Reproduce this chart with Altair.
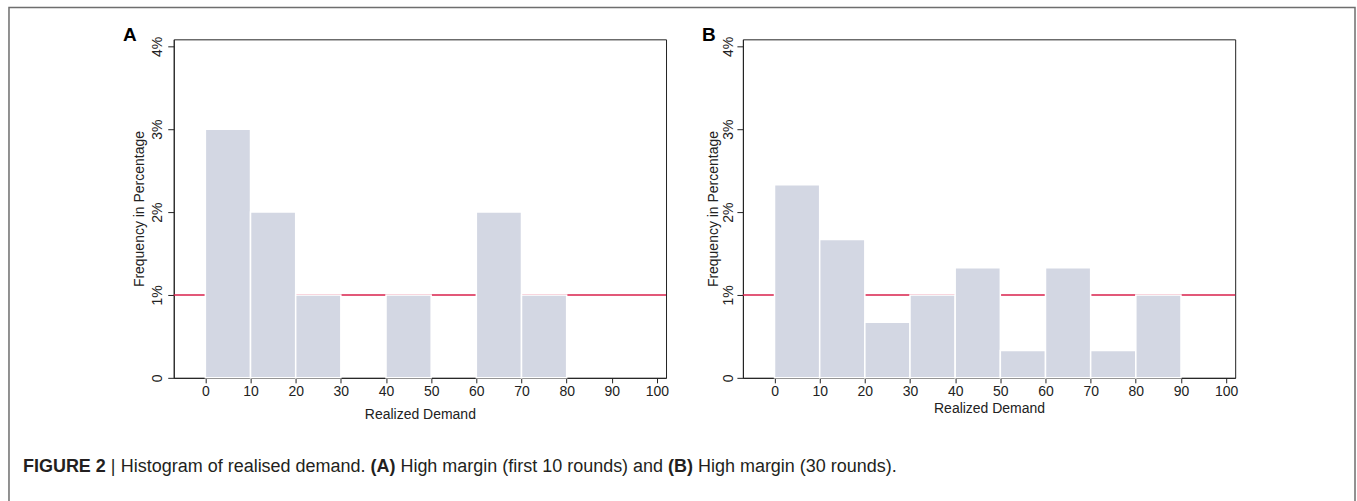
import altair as alt
import pandas as pd

# ---- data ----
bin_start = [0, 10, 20, 30, 40, 50, 60, 70, 80, 90]
bin_width = 10
pct_a = [3.0, 2.0, 1.0, 0.0, 1.0, 0.0, 2.0, 1.0, 0.0, 0.0]
pct_b = [2.33, 1.67, 0.67, 1.0, 1.33, 0.33, 1.33, 0.33, 1.0, 0.0]
ref_level = [1.0]
y_ticks = [0, 1, 2, 3, 4]
x_ticks = [0, 10, 20, 30, 40, 50, 60, 70, 80, 90, 100]
x_title = "Realized Demand"
y_title = "Frequency in Percentage"
caption_parts = [
    ("FIGURE 2", "bold"),
    ("|", "normal"),
    ("Histogram of realised demand.", "normal"),
    ("(A)", "bold"),
    ("High margin (first 10 rounds) and", "normal"),
    ("(B)", "bold"),
    ("High margin (30 rounds).", "normal"),
]
caption_x = [-151, -63, -53, 197, 227, 495, 525]

FONT = "Liberation Sans, Arial, Helvetica, sans-serif"
BAR = "#d3d7e3"
RED = "#d9214b"
INK = "#222222"

one = pd.DataFrame({"k": [0]})


def panel(pct, letter, letter_x, lab_pad, y_title_pad, x_title_pad, extra=None):
    df = pd.DataFrame({
        "start": bin_start,
        "end": [s + bin_width for s in bin_start],
        "pct": pct,
    })
    df = df[df["pct"] > 0]

    yscale = alt.Scale(domain=[0, 4.085], nice=False)
    yaxis = alt.Axis(
        values=y_ticks, title=y_title,
        labelExpr="datum.value == 0 ? '0' : datum.value + '%'",
        labelAngle=-90, labelAlign="center", labelBaseline="bottom",
        tickSize=6, labelPadding=lab_pad, titlePadding=y_title_pad,
        labelFlush=False,
    )

    rule = alt.Chart(pd.DataFrame({"ref": ref_level})).mark_rule(
        color=RED, strokeWidth=1.5
    ).encode(y=alt.Y("ref:Q", axis=yaxis, scale=yscale, title=y_title))

    bars = alt.Chart(df).mark_rect(
        fill=BAR, stroke="white", strokeWidth=1.5
    ).encode(
        x=alt.X(
            "start:Q",
            scale=alt.Scale(domain=[-7, 102], nice=False, zero=False),
            axis=alt.Axis(
                values=x_ticks, title=x_title, titlePadding=x_title_pad,
                tickSize=5, labelPadding=2, labelFlush=False,
            ),
        ),
        x2="end:Q",
        y=alt.Y("pct:Q", scale=yscale, axis=yaxis, title=y_title),
        y2=alt.datum(0),
    )

    lab = alt.Chart(one).mark_text(
        text=letter, font=FONT, fontSize=19, fontWeight="bold",
        align="center", baseline="alphabetic", color="black",
    ).encode(x=alt.value(letter_x), y=alt.value(2))

    layers = [rule, bars, lab]
    if extra:
        layers += extra
    return alt.layer(*layers).properties(width=493, height=339)


# figure frame and caption (decoration, placed in panel A's coordinates)
frame = alt.Chart(one).mark_rect(
    filled=False, stroke="#6e6e6e", strokeWidth=1.5
).encode(x=alt.value(-165), x2=alt.value(1183), y=alt.value(-32), y2=alt.value(500))

caption = [
    alt.Chart(one).mark_text(
        text=t, font=FONT, fontSize=18, fontWeight=w,
        align="left", baseline="alphabetic", color="#231f20",
    ).encode(x=alt.value(x), y=alt.value(433))
    for (t, w), x in zip(caption_parts, caption_x)
]

pA = panel(pct_a, "A", -44, 3, 4, 9, extra=[frame] + caption)
pB = panel(pct_b, "B", -34, 1, 1, 3)

chart = alt.hconcat(pA, pB, spacing=77, bounds="flush").properties(
    padding={"left": 7, "top": 5, "right": 0, "bottom": 0}
).configure_view(
    stroke=INK, strokeWidth=1
).configure_axis(
    domainColor=INK, tickColor=INK, labelColor=INK, titleColor=INK,
    labelFont=FONT, titleFont=FONT, labelFontSize=14, titleFontSize=14,
    titleFontWeight="normal", grid=False, domainWidth=1, tickWidth=1,
)

chart.save("out.html", embed_options={"renderer": "svg", "actions": False})
